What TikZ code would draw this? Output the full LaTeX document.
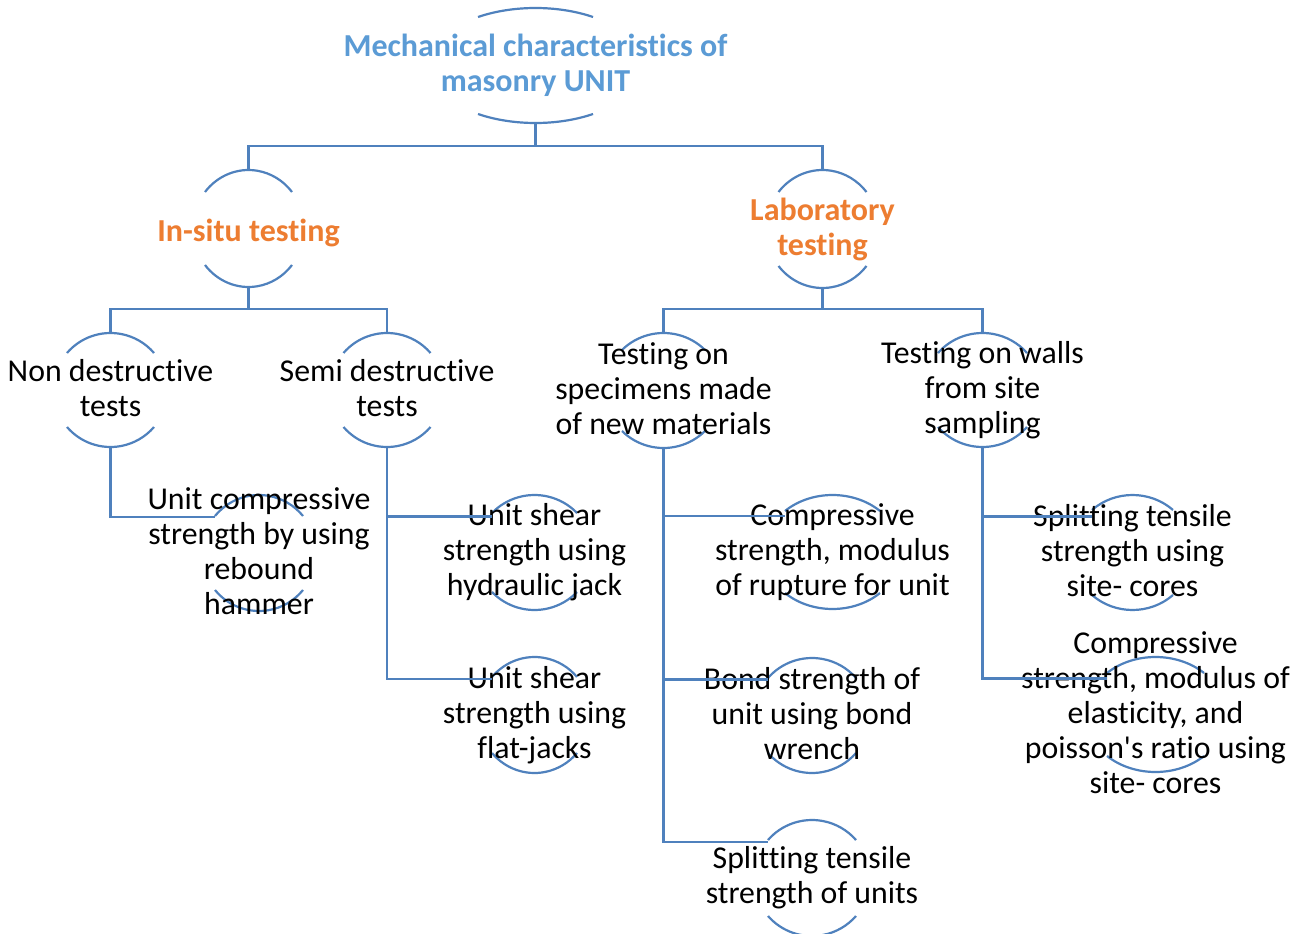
\documentclass[tikz,border=0pt]{standalone}
\usepackage{fontspec}
\setmainfont{Carlito}[Ligatures={TeX,NoCommon}]
\usetikzlibrary{calc}
\definecolor{linkblue}{RGB}{79,129,189}
\definecolor{titleblue}{RGB}{91,155,213}
\definecolor{headorange}{RGB}{237,125,49}
% strut giving every text line the same height and depth
\newcommand\linestrut{\rule[-4.5pt]{0pt}{35pt}}
\tikzset{
  arcline/.style={draw=linkblue, line width=2.2pt},
  link/.style={draw=linkblue, line width=2.2pt},
  txt/.style={inner sep=0pt, align=center, font=\fontsize{31.8}{35}\selectfont,
    execute at begin node=\linestrut, execute at end node=\linestrut},
  roottxt/.style={txt, font=\fontsize{32}{35}\selectfont\bfseries, text=titleblue},
  headtxt/.style={txt, font=\fontsize{32}{35}\selectfont\bfseries, text=headorange},
  itemtxt/.style={txt, text=black},
}
% \bnode{name}{x}{y}{half chord}{half height}{sag}{style}{text}
% draws the upper and lower arc of a node and its text, y measured downwards
\newcommand\bnode[8]{%
  \pgfmathsetmacro\bnt{asin((#5-#6)/#5)}%
  \pgfmathsetmacro\bna{#4/cos(\bnt)}%
  \coordinate (#1-t) at (#2,{-(#3)+#5});
  \coordinate (#1-b) at (#2,{-(#3)-#5});
  \coordinate (#1-l) at ({#2-#4},{-(#3)+36});
  \draw[arcline] ({#2-#4},{-(#3)+#5-#6}) arc[start angle={180-\bnt}, end angle=\bnt, x radius=\bna, y radius=#5];
  \draw[arcline] ({#2-#4},{-(#3)-#5+#6}) arc[start angle={180+\bnt}, end angle={360-\bnt}, x radius=\bna, y radius=#5];
  \node[#7] (#1) at (#2,-#3) {#8};
}
\begin{document}
\begin{tikzpicture}[x=1pt, y=1pt]
  \fill[white] (0,0) rectangle (1307,-934);
  \useasboundingbox (0,0) rectangle (1307,-934);
  \begin{scope}
  \clip (0,0) rectangle (1307,-934);

  % top level
  \bnode{root}{535.5}{65.5}{57.5}{57.5}{9}{roottxt}{Mechanical characteristics of\\masonry UNIT}
  % second level
  \bnode{insitu}{248.5}{228.5}{43.5}{58.5}{22}{headtxt}{In-situ testing}
  \bnode{lab}{822.5}{229}{44}{59}{22}{headtxt}{Laboratory\\testing}
  % third level
  \bnode{nondes}{110.5}{390}{43.5}{57}{20}{itemtxt}{Non destructive\\tests}
  \bnode{semi}{387}{390}{43.5}{57}{20}{itemtxt}{Semi destructive\\tests}
  \bnode{spec}{663.5}{390.5}{41.5}{57.5}{17}{itemtxt}{Testing on\\specimens made\\of new materials}
  \bnode{walls}{982.5}{390}{44.5}{57}{20}{itemtxt}{Testing on walls\\from site\\sampling}
  % test methods
  \bnode{hammer}{259}{553}{44}{58}{21}{itemtxt}{Unit compressive\\strength by using\\rebound\\hammer}
  \bnode{hyd}{534.5}{552.5}{42.5}{57.5}{18}{itemtxt}{Unit shear\\strength using\\hydraulic jack}
  \bnode{flat}{534.5}{715}{42.5}{58}{20}{itemtxt}{Unit shear\\strength using\\flat-jacks}
  \bnode{comp}{832.5}{552}{47.5}{57}{16}{itemtxt}{Compressive\\strength, modulus\\of rupture for unit}
  \bnode{bond}{812}{715.5}{44}{57.5}{20}{itemtxt}{Bond strength of\\unit using bond\\wrench}
  \bnode{split}{812}{878}{44}{58}{20}{itemtxt}{Splitting tensile\\strength of units}
  \bnode{cores}{1132.5}{552.5}{40.5}{57.5}{15}{itemtxt}{Splitting tensile\\strength using\\site- cores}
  \bnode{elast}{1155.5}{714.5}{48.5}{57.5}{16}{itemtxt}{Compressive\\strength, modulus of\\elasticity, and\\poisson\textquotesingle s ratio using\\site- cores}

  % connectors
  \draw[link] (root-b) -- ++(0,-23) -| (insitu-t);
  \draw[link] (root-b) -- ++(0,-23) -| (lab-t);
  \draw[link] (insitu-b) -- ++(0,-22) -| (nondes-t);
  \draw[link] (insitu-b) -- ++(0,-22) -| (semi-t);
  \draw[link] (lab-b) -- ++(0,-21) -| (spec-t);
  \draw[link] (lab-b) -- ++(0,-21) -| (walls-t);
  \draw[link] (nondes-b) |- (hammer-l);
  \draw[link] (semi-b) |- (hyd-l);
  \draw[link] (semi-b) |- (flat-l);
  \draw[link] (spec-b) |- (comp-l);
  \draw[link] (spec-b) |- (bond-l);
  \draw[link] (spec-b) |- (split-l);
  \draw[link] (walls-b) |- (cores-l);
  \draw[link] (walls-b) |- (elast-l);
  \end{scope}
\end{tikzpicture}
\end{document}
